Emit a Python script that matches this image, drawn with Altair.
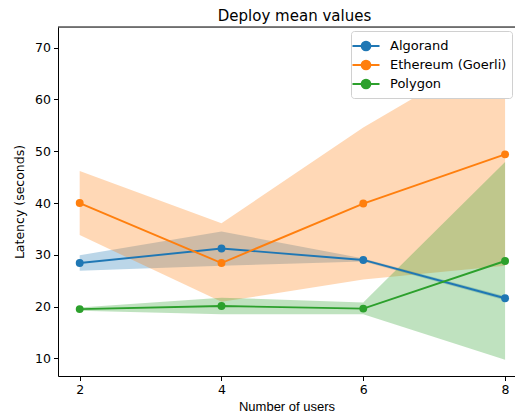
import altair as alt
import pandas as pd

users = [2, 4, 6, 8]
series_names = ["Algorand", "Ethereum (Goerli)", "Polygon"]
colors = ["#1f77b4", "#ff7f0e", "#2ca02c"]

algorand_mean = [28.4, 31.2, 29.0, 21.6]
algorand_lo = [26.9, 27.9, 28.7, 21.2]
algorand_hi = [29.9, 34.5, 29.3, 22.0]

ethereum_mean = [40.0, 28.4, 39.9, 49.4]
ethereum_lo = [33.8, 20.9, 25.2, 27.9]
ethereum_hi = [46.2, 36.1, 54.6, 70.6]

polygon_mean = [19.5, 20.1, 19.6, 28.8]
polygon_lo = [19.2, 18.5, 18.5, 9.7]
polygon_hi = [19.8, 21.7, 20.8, 47.9]

y_ticks = [10, 20, 30, 40, 50, 60, 70]

x_domain = [1.694, 8.14]
y_domain = [6.58, 74.0]

rows = []
for name, m, lo, hi in [
    ("Algorand", algorand_mean, algorand_lo, algorand_hi),
    ("Ethereum (Goerli)", ethereum_mean, ethereum_lo, ethereum_hi),
    ("Polygon", polygon_mean, polygon_lo, polygon_hi),
]:
    for i, u in enumerate(users):
        rows.append({"series": name, "users": u, "mean": m[i], "lo": lo[i], "hi": hi[i]})
df = pd.DataFrame(rows)

legend_path = "M-1.56,0L1.56,0M-0.51,0A0.51,0.51,0,1,0,0.51,0A0.51,0.51,0,1,0,-0.51,0Z"
legend = alt.Legend(
    title=None,
    orient="none",
    legendX=293,
    legendY=4,
    symbolType=legend_path,
    symbolSize=300,
    symbolStrokeWidth=1.9,
    symbolOpacity=1,
    labelFontSize=13,
    labelFont="DejaVu Sans",
    labelColor="black",
    labelOffset=14,
    rowPadding=0,
    padding=5,
    fillColor="white",
    strokeColor="#d0d0d0",
    cornerRadius=3,
)

color = alt.Color("series:N", scale=alt.Scale(domain=series_names, range=colors), legend=legend)

xscale = alt.Scale(domain=x_domain, nice=False, zero=False)
yscale = alt.Scale(domain=y_domain, nice=False, zero=False)

xaxis = alt.Axis(values=users, format="d", title="Number of users", grid=False,
                 tickSize=4.5, tickColor="black", domainColor="black", tickWidth=1,
                 labelFontSize=12.5, labelFont="DejaVu Sans", labelColor="black", labelPadding=3,
                 titleFont="Liberation Sans", titleFontSize=13, titleFontWeight="normal",
                 titleColor="black", titlePadding=4)
yaxis = alt.Axis(values=y_ticks, format="d", title="Latency (seconds)", grid=False,
                 tickSize=4.5, tickColor="black", domainColor="black", tickWidth=1,
                 labelFontSize=12.5, labelFont="DejaVu Sans", labelColor="black", labelPadding=3,
                 titleFont="DejaVu Sans", titleFontSize=12.5, titleFontWeight="normal",
                 titleColor="black", titlePadding=8)

base = alt.Chart(df)

areas = base.mark_area(opacity=0.3).encode(
    x=alt.X("users:Q", scale=xscale, axis=xaxis),
    y=alt.Y("lo:Q", scale=yscale, axis=yaxis),
    y2="hi:Q",
    color=color,
)

lines = base.mark_line(strokeWidth=1.9).encode(
    x=alt.X("users:Q", scale=xscale),
    y=alt.Y("mean:Q", scale=yscale),
    color=color,
)

points = base.mark_point(filled=True, size=62, opacity=1).encode(
    x=alt.X("users:Q", scale=xscale),
    y=alt.Y("mean:Q", scale=yscale),
    color=color,
)

top_spine = alt.Chart(pd.DataFrame({"top": [y_domain[1]]})).mark_rule(
    color="black", strokeWidth=1, opacity=1
).encode(
    y=alt.Y("top:Q", scale=yscale),
)

chart = alt.layer(areas, lines, points, top_spine).properties(
    width=457,
    height=349,
    title=alt.TitleParams("Deploy mean values", fontSize=15, font="DejaVu Sans",
                          fontWeight="normal", color="black", offset=3, dx=8),
    autosize=alt.AutoSizeParams(type="none"),
    padding={"left": 50, "top": 19, "right": 0, "bottom": 36},
).configure_view(stroke=None).configure(background="white")

chart.save("out.html", embed_options={"renderer": "svg", "actions": False})
